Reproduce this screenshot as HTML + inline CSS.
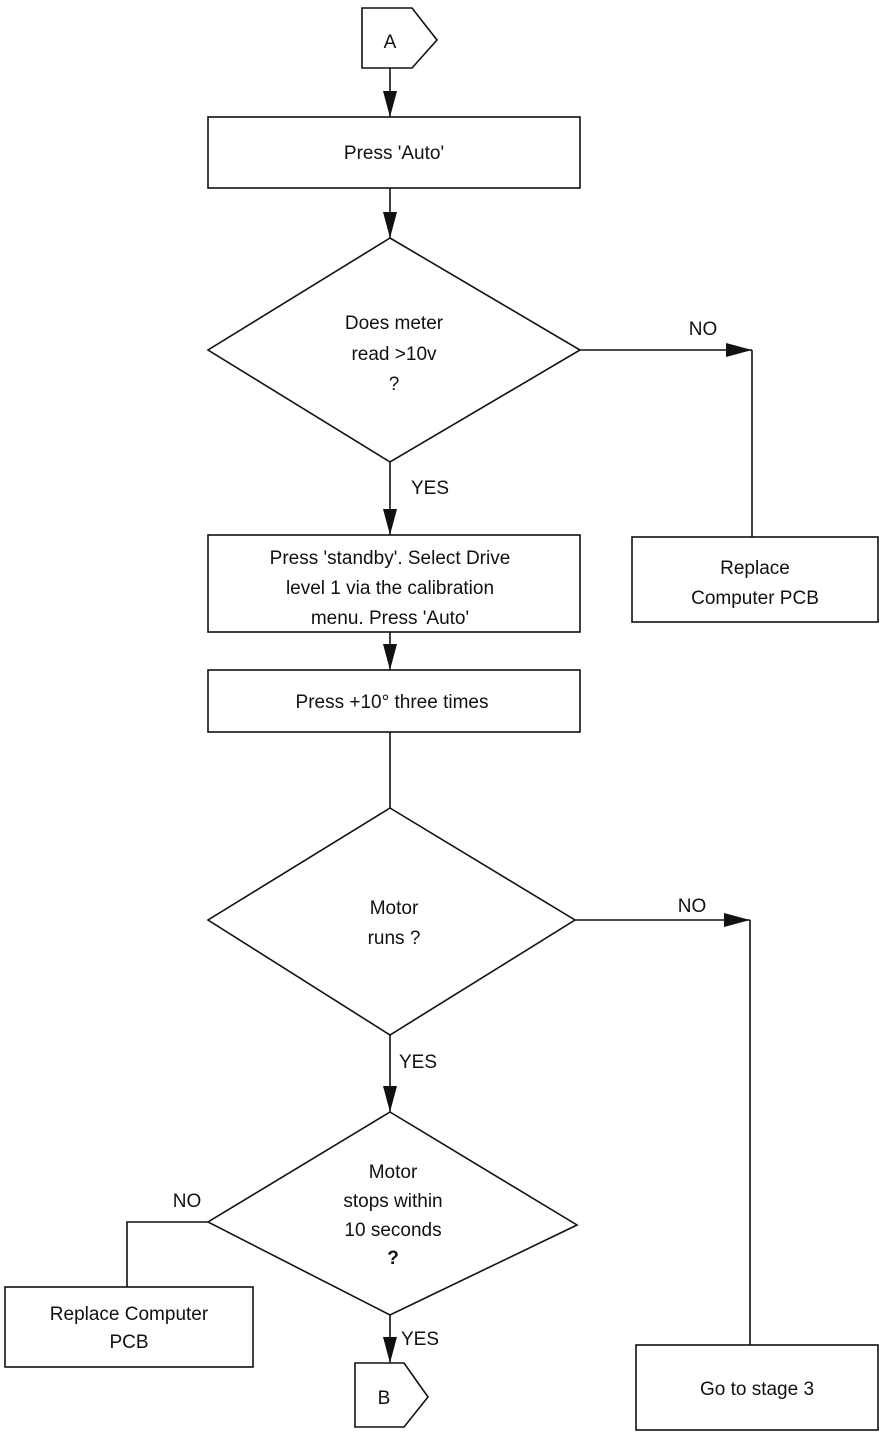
<!DOCTYPE html>
<html><head><style>
body{margin:0;background:#fff}
text{font-family:"Liberation Sans",sans-serif;font-size:19px;fill:#111}
</style></head><body>
<svg width="879" height="1436" viewBox="0 0 879 1436" xmlns="http://www.w3.org/2000/svg">
<defs><marker id="a" markerWidth="26" markerHeight="14" refX="26" refY="7" orient="auto" markerUnits="userSpaceOnUse" viewBox="0 0 26 14"><path d="M0,0 L26,7 L0,14z" fill="#111"/></marker></defs>
<g stroke="#111" stroke-width="1.6" fill="none">
<path d="M362,8 H412 L437,40 L412,68 H362Z"/>
<line x1="390" y1="68" x2="390" y2="117" marker-end="url(#a)"/>
<rect x="208" y="117" width="372" height="71"/>
<line x1="390" y1="188" x2="390" y2="238" marker-end="url(#a)"/>
<path d="M390,238 L580,350 L390,462 L208,350Z"/>
<line x1="580" y1="350" x2="752" y2="350" marker-end="url(#a)"/>
<line x1="752" y1="350" x2="752" y2="537"/>
<rect x="632" y="537" width="246" height="85"/>
<line x1="390" y1="462" x2="390" y2="535" marker-end="url(#a)"/>
<rect x="208" y="535" width="372" height="97"/>
<line x1="390" y1="632" x2="390" y2="670" marker-end="url(#a)"/>
<rect x="208" y="670" width="372" height="62"/>
<line x1="390" y1="732" x2="390" y2="808"/>
<path d="M390,808 L575,920 L390,1035 L208,920Z"/>
<line x1="575" y1="920" x2="750" y2="920" marker-end="url(#a)"/>
<line x1="750" y1="920" x2="750" y2="1345"/>
<rect x="636" y="1345" width="242" height="85"/>
<line x1="390" y1="1035" x2="390" y2="1112" marker-end="url(#a)"/>
<path d="M390,1112 L577,1225 L390,1315 L208,1222Z"/>
<path d="M208,1222 H127 V1287"/>
<rect x="5" y="1287" width="248" height="80"/>
<line x1="390" y1="1315" x2="390" y2="1363" marker-end="url(#a)"/>
<path d="M355,1363 H404 L428,1397 L404,1427 H355Z"/>
</g>
<g text-anchor="middle">
<text x="390" y="48">A</text>
<text x="394" y="159">Press 'Auto'</text>
<text x="394" y="329">Does meter</text>
<text x="394" y="360">read &gt;10v</text>
<text x="394" y="390">?</text>
<text x="703" y="335">NO</text>
<text x="430" y="494">YES</text>
<text x="755" y="574">Replace</text>
<text x="755" y="604">Computer PCB</text>
<text x="390" y="564">Press 'standby'. Select Drive</text>
<text x="390" y="594">level 1 via the calibration</text>
<text x="390" y="624">menu. Press 'Auto'</text>
<text x="392" y="708">Press +10° three times</text>
<text x="394" y="914">Motor</text>
<text x="394" y="944">runs ?</text>
<text x="692" y="912">NO</text>
<text x="418" y="1068">YES</text>
<text x="393" y="1178">Motor</text>
<text x="393" y="1207">stops within</text>
<text x="393" y="1236">10 seconds</text>
<text x="393" y="1264" font-weight="bold">?</text>
<text x="187" y="1207">NO</text>
<text x="129" y="1320">Replace Computer</text>
<text x="129" y="1348">PCB</text>
<text x="420" y="1345">YES</text>
<text x="384" y="1404">B</text>
<text x="757" y="1395">Go to stage 3</text>
</g>
</svg>
</body></html>
